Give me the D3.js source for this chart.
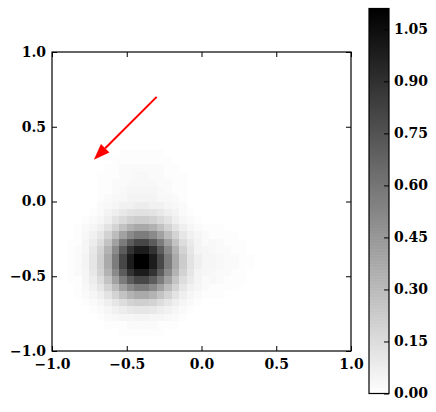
<!DOCTYPE html>
<html>
<head>
<meta charset="utf-8">
<script src="https://cdn.jsdelivr.net/npm/d3@7"></script>
<style>
  html, body { margin: 0; padding: 0; background: #fff; }
  svg { display: block; }
  text { font-family: "DejaVu Serif", serif; font-weight: bold; font-size: 14px; fill: #000; }
</style>
</head>
<body>
<svg id="chart" width="436" height="412"></svg>
<script>

// ticks
const xTicks = [-1.0, -0.5, 0.0, 0.5, 1.0];
const yTicks = [-1.0, -0.5, 0.0, 0.5, 1.0];
const cbarTicks = [0.00, 0.15, 0.30, 0.45, 0.60, 0.75, 0.90, 1.05];

// image extent and colour limit
const gridExtent = [-1, 1];
const vmax = 1.11;
const valueUnit = 0.01;

// arrow (data coords)
const arrowStart = [-0.30, 0.70];
const arrowEnd = [-0.72, 0.28];

// 40 x 40 grid, top row first, values in hundredths
const density = [
  [0,0,0,0,0,0,0,0,0,0,0,0,0,0,0,0,0,0,0,0,0,0,0,0,0,0,0,0,0,0,0,0,0,0,0,0,0,0,0,0],
  [0,0,0,0,0,0,0,0,0,0,0,0,0,0,0,0,0,0,0,0,0,0,0,0,0,0,0,0,0,0,0,0,0,0,0,0,0,0,0,0],
  [0,0,0,0,0,0,0,0,0,0,0,0,0,0,0,0,0,0,0,0,0,0,0,0,0,0,0,0,0,0,0,0,0,0,0,0,0,0,0,0],
  [0,0,0,0,0,0,0,0,0,0,0,0,0,0,0,0,0,0,0,0,0,0,0,0,0,0,0,0,0,0,0,0,0,0,0,0,0,0,0,0],
  [0,0,0,0,0,0,0,0,0,0,0,0,0,0,0,0,0,0,0,0,0,0,0,0,0,0,0,0,0,0,0,0,0,0,0,0,0,0,0,0],
  [0,0,0,0,0,0,0,0,0,0,0,0,0,0,0,0,0,0,0,0,0,0,0,0,0,0,0,0,0,0,0,0,0,0,0,0,0,0,0,0],
  [0,0,0,0,0,0,0,0,0,0,0,0,0,0,0,0,0,0,0,0,0,0,0,0,0,0,0,0,0,0,0,0,0,0,0,0,0,0,0,0],
  [0,0,0,0,0,0,0,0,0,0,0,0,0,0,0,0,0,0,0,0,0,0,0,0,0,0,0,0,0,0,0,0,0,0,0,0,0,0,0,0],
  [0,0,0,0,0,0,0,0,0,0,0,0,0,0,0,0,0,0,0,0,0,0,0,0,0,0,0,0,0,0,0,0,0,0,0,0,0,0,0,0],
  [0,0,0,0,0,0,0,0,0,0,0,0,0,0,0,0,0,0,0,0,0,0,0,0,0,0,0,0,0,0,0,0,0,0,0,0,0,0,0,0],
  [0,0,0,0,0,0,0,0,0,0,0,0,0,0,0,0,0,0,0,0,0,0,0,0,0,0,0,0,0,0,0,0,0,0,0,0,0,0,0,0],
  [0,0,0,0,0,0,0,0,0,0,0,0,0,0,0,0,0,0,0,0,0,0,0,0,0,0,0,0,0,0,0,0,0,0,0,0,0,0,0,0],
  [0,0,0,0,0,0,0,0,0,0,0,0,0,0,0,0,0,0,0,0,0,0,0,0,0,0,0,0,0,0,0,0,0,0,0,0,0,0,0,0],
  [0,0, 0,0,0,0,0,0,0,1,1,1,1,1,1,0,0,0,0,0,0,0, 0,0,0,0,0, 0,0,0,0,0,0,0,0,0,0,0,0,0],
  [0,0, 0,0,0,0,0,0,1,1,1,1,1,1,1,1,0,0,0,0,0,0, 0,0,0,0,0, 0,0,0,0,0,0,0,0,0,0,0,0,0],
  [0,0, 0,0,0,0,0,1,1,2,2,2,2,2,2,1,1,0,0,0,0,0, 0,0,0,0,0, 0,0,0,0,0,0,0,0,0,0,0,0,0],
  [0,0, 0,0,0,0,1,1,1,2,2,3,3,2,2,1,1,1,0,0,0,0, 0,0,0,0,0, 0,0,0,0,0,0,0,0,0,0,0,0,0],
  [0,0, 0,0,0,0,1,1,2,2,3,3,3,3,2,2,1,1,0,0,0,0, 0,0,0,0,0, 0,0,0,0,0,0,0,0,0,0,0,0,0],
  [0,0, 0,0,0,0,1,1,2,3,4,4,4,4,3,2,1,1,0,0,0,0, 0,0,0,0,0, 0,0,0,0,0,0,0,0,0,0,0,0,0],
  [0,0, 0,0,0,0,1,2,3,3,5,5,5,5,3,3,2,1,0,0,0,0, 0,0,0,0,0, 0,0,0,0,0,0,0,0,0,0,0,0,0],
  [0,0, 0,0,0,0,2,3,4,6,6,8,8,6,6,4,3,2,0,0,0,0, 0,0,0,0,0, 0,0,0,0,0,0,0,0,0,0,0,0,0],
  [0,0, 0,0,0,1,2,5,7,10,12,13,13,12,10,7,5,2,1,0,0,0, 0,0,0,0,0, 0,0,0,0,0,0,0,0,0,0,0,0,0],
  [0,0, 0,0,1,2,4,7,12,16,20,22,22,20,16,12,7,4,2,1,0,0, 0,0,0,0,0, 0,0,0,0,0,0,0,0,0,0,0,0,0],
  [0,0, 0,1,2,4,7,12,19,27,34,38,38,34,27,19,12,7,4,2,1,1, 1,0,0,0,0, 0,0,0,0,0,0,0,0,0,0,0,0,0],
  [0,0, 0,1,3,6,11,19,29,41,51,57,57,51,41,29,19,11,6,4,2,1, 1,1,1,0,0, 0,0,0,0,0,0,0,0,0,0,0,0,0],
  [0,0, 1,1,4,8,15,26,41,57,71,80,80,71,57,41,26,15,9,5,2,3, 2,1,1,1,0, 0,0,0,0,0,0,0,0,0,0,0,0,0],
  [0,0, 1,2,4,10,19,33,51,71,89,99,99,89,71,51,33,19,11,5,4,3, 2,2,1,1,0, 0,0,0,0,0,0,0,0,0,0,0,0,0],
  [0,0, 1,2,5,11,21,37,57,80,99,111,111,99,80,57,37,22,12,7,4,4, 3,2,2,1,1, 0,0,0,0,0,0,0,0,0,0,0,0,0],
  [0,0, 1,2,5,11,21,37,57,80,99,111,111,99,80,57,37,22,12,7,4,4, 3,2,2,1,1, 0,0,0,0,0,0,0,0,0,0,0,0,0],
  [0,0, 1,2,4,10,19,33,51,71,89,99,99,89,71,51,33,19,11,5,4,3, 2,2,1,1,0, 0,0,0,0,0,0,0,0,0,0,0,0,0],
  [0,0, 1,1,4,8,15,26,41,57,71,80,80,71,57,41,26,15,9,5,2,3, 2,1,1,1,0, 0,0,0,0,0,0,0,0,0,0,0,0,0],
  [0,0, 0,1,3,6,11,19,29,41,51,57,57,51,41,29,19,11,6,4,2,1, 1,1,1,0,0, 0,0,0,0,0,0,0,0,0,0,0,0,0],
  [0,0, 0,1,2,4,7,12,19,26,33,37,37,33,26,19,12,7,4,2,1,1, 1,0,0,0,0, 0,0,0,0,0,0,0,0,0,0,0,0,0],
  [0,0, 0,0,1,2,4,7,11,15,19,21,21,19,15,11,7,4,2,1,0,0, 0,0,0,0,0, 0,0,0,0,0,0,0,0,0,0,0,0,0],
  [0,0, 0,0,0,1,2,4,6,8,10,11,11,10,8,6,4,2,1,0,0,0, 0,0,0,0,0, 0,0,0,0,0,0,0,0,0,0,0,0,0],
  [0,0, 0,0,0,0,1,2,3,4,4,5,5,4,4,3,2,1,0,0,0,0, 0,0,0,0,0, 0,0,0,0,0,0,0,0,0,0,0,0,0],
  [0,0, 0,0,0,0,0,1,1,1,2,2,2,2,1,1,1,0,0,0,0,0, 0,0,0,0,0, 0,0,0,0,0,0,0,0,0,0,0,0,0],
  [0,0, 0,0,0,0,0,0,0,1,1,1,1,1,1,0,0,0,0,0,0,0, 0,0,0,0,0, 0,0,0,0,0,0,0,0,0,0,0,0,0],
  [0,0,0,0,0,0,0,0,0,0,0,0,0,0,0,0,0,0,0,0,0,0,0,0,0,0,0,0,0,0,0,0,0,0,0,0,0,0,0,0],
  [0,0,0,0,0,0,0,0,0,0,0,0,0,0,0,0,0,0,0,0,0,0,0,0,0,0,0,0,0,0,0,0,0,0,0,0,0,0,0,0]
];

const svg = d3.select('#chart');

const plot = { left: 52, right: 351, top: 52, bottom: 351 };
const cbar = { left: 369, right: 389, top: 8.5, bottom: 393.5 };

const xScale = d3.scaleLinear().domain([-1, 1]).range([plot.left, plot.right]);
const yScale = d3.scaleLinear().domain([-1, 1]).range([plot.bottom, plot.top]);
const cScale = d3.scaleLinear().domain([0, vmax]).range([cbar.bottom, cbar.top]);
const color = d3.scaleLinear().domain([0, vmax]).range(['#ffffff', '#000000']).clamp(true);

const nRows = density.length;
const nCols = density[0].length;
const cellW = (gridExtent[1] - gridExtent[0]) / nCols;
const cellH = (gridExtent[1] - gridExtent[0]) / nRows;

let cells = [];
density.forEach((row, j) => {
  row.forEach((v, i) => {
    cells.push({ i: i, j: j, v: v * valueUnit });
  });
});

// heatmap
svg.append('g')
  .selectAll('rect')
  .data(cells)
  .join('rect')
  .attr('x', d => xScale(gridExtent[0] + d.i * cellW))
  .attr('y', d => yScale(gridExtent[1] - d.j * cellH))
  .attr('width', d => xScale(gridExtent[0] + (d.i + 1) * cellW) - xScale(gridExtent[0] + d.i * cellW))
  .attr('height', d => yScale(gridExtent[1] - (d.j + 1) * cellH) - yScale(gridExtent[1] - d.j * cellH))
  .attr('fill', d => color(d.v))
  .attr('shape-rendering', 'crispEdges');

// axes, ticks pointing inward
const fmt1 = d3.format('.1f');

svg.append('g')
  .attr('transform', 'translate(0,' + plot.bottom + ')')
  .call(d3.axisBottom(xScale).tickValues(xTicks).tickSize(-5).tickPadding(8).tickFormat(fmt1));

svg.append('g')
  .attr('transform', 'translate(' + plot.left + ',0)')
  .call(d3.axisLeft(yScale).tickValues(yTicks).tickSize(-5).tickPadding(6).tickFormat(fmt1));

svg.append('g')
  .attr('transform', 'translate(0,' + plot.top + ')')
  .call(d3.axisTop(xScale).tickValues(xTicks).tickSize(-5).tickFormat(''));

svg.append('g')
  .attr('transform', 'translate(' + plot.right + ',0)')
  .call(d3.axisRight(yScale).tickValues(yTicks).tickSize(-5).tickFormat(''));

svg.selectAll('.domain').remove();
svg.selectAll('.tick line').attr('stroke', '#000').attr('stroke-width', 1);
svg.selectAll('.tick text')
  .style('font-family', '"DejaVu Serif", serif')
  .style('font-weight', 'bold')
  .style('font-size', '14px');

// frame
svg.append('rect')
  .attr('x', plot.left)
  .attr('y', plot.top)
  .attr('width', plot.right - plot.left)
  .attr('height', plot.bottom - plot.top)
  .attr('fill', 'none')
  .attr('stroke', '#000')
  .attr('stroke-width', 1.2);

// arrow
const p0 = [xScale(arrowStart[0]), yScale(arrowStart[1])];
const p1 = [xScale(arrowEnd[0]), yScale(arrowEnd[1])];
const ang = Math.atan2(p1[1] - p0[1], p1[0] - p0[0]);
const headLen = 16;
const headHalf = 6;
const base = [p1[0] - headLen * Math.cos(ang), p1[1] - headLen * Math.sin(ang)];

svg.append('line')
  .attr('x1', p0[0]).attr('y1', p0[1])
  .attr('x2', base[0]).attr('y2', base[1])
  .attr('stroke', '#ff0000')
  .attr('stroke-width', 2);

svg.append('polygon')
  .attr('points', [
    p1,
    [base[0] + headHalf * Math.sin(ang), base[1] - headHalf * Math.cos(ang)],
    [base[0] - headHalf * Math.sin(ang), base[1] + headHalf * Math.cos(ang)]
  ].map(p => p.join(',')).join(' '))
  .attr('fill', '#ff0000');

// colorbar
const nSteps = 128;
const steps = d3.range(nSteps).map(k => [k * vmax / nSteps, (k + 1) * vmax / nSteps]);

svg.append('g')
  .selectAll('rect')
  .data(steps)
  .join('rect')
  .attr('x', cbar.left)
  .attr('width', cbar.right - cbar.left)
  .attr('y', d => cScale(d[1]))
  .attr('height', d => cScale(d[0]) - cScale(d[1]) + 0.5)
  .attr('fill', d => color((d[0] + d[1]) / 2));

const cAxis = svg.append('g')
  .attr('transform', 'translate(' + cbar.right + ',0)')
  .call(d3.axisRight(cScale).tickValues(cbarTicks).tickSize(-5).tickPadding(5).tickFormat(d3.format('.2f')));
cAxis.select('.domain').remove();
cAxis.selectAll('.tick line').attr('stroke', '#000');
cAxis.selectAll('.tick text')
  .style('font-family', '"DejaVu Serif", serif')
  .style('font-weight', 'bold')
  .style('font-size', '14px');

svg.append('rect')
  .attr('x', cbar.left)
  .attr('y', cbar.top)
  .attr('width', cbar.right - cbar.left)
  .attr('height', cbar.bottom - cbar.top)
  .attr('fill', 'none')
  .attr('stroke', '#000')
  .attr('stroke-width', 1.2);

</script>
</body>
</html>
